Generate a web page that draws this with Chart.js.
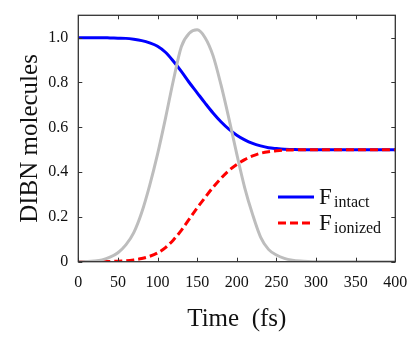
<!DOCTYPE html>
<html>
<head>
<meta charset="utf-8">
<script src="https://cdn.jsdelivr.net/npm/chart.js@4/dist/chart.umd.min.js"></script>
<style>
  html, body { margin: 0; padding: 0; background: #fff; }
  .chart-container { width: 416px; height: 338px; position: relative; }
</style>
</head>
<body>
<div class="chart-container"><canvas id="pulseChart"></canvas></div>
<script>
// time axis (fs), one sample every 10 fs
const times = [0,10,20,30,40,50,60,70,80,90,100,110,120,130,140,150,160,170,180,190,200,
  210,220,230,240,250,260,270,280,290,300,310,320,330,340,350,360,370,380,390,400];

const intact = [1.0,1.0,1.0,1.0,0.999,0.998,0.997,0.993,0.987,0.977,0.962,0.935,0.895,0.85,0.80,
  0.754,0.708,0.664,0.625,0.592,0.565,0.544,0.528,0.517,0.509,0.505,0.502,0.501,
  0.5,0.5,0.5,0.5,0.5,0.5,0.5,0.5,0.5,0.5,0.5,0.5,0.5];

const ionized = [0,0,0,0,0.001,0.002,0.004,0.008,0.014,0.024,0.039,0.063,0.097,0.14,0.19,
  0.24,0.287,0.332,0.372,0.407,0.434,0.456,0.472,0.484,0.491,0.495,0.498,0.499,
  0.5,0.5,0.5,0.5,0.5,0.5,0.5,0.5,0.5,0.5,0.5,0.5,0.5];

const pulse = [0,0.001,0.003,0.008,0.02,0.04,0.075,0.13,0.22,0.34,0.48,0.64,0.81,0.96,1.02,
  1.035,1.0,0.92,0.79,0.64,0.48,0.33,0.21,0.11,0.055,0.03,0.015,0.007,0.003,0.001,
  0,0,0,0,0,0,0,0,0,0,0];

const xTicks = [0,50,100,150,200,250,300,350,400];
const yTicks = [0,0.2,0.4,0.6,0.8,1.0];

const SERIF = "'Liberation Serif', 'Times New Roman', serif";

function toPoints(values){
  return times.map((t, i) => ({ x: t, y: values[i] }));
}

// frame with inward ticks on all four sides
const framePlugin = {
  id: 'frame',
  afterDatasetsDraw(chart){
    const c = chart.ctx;
    const a = chart.chartArea;
    const xs = chart.scales.x, ys = chart.scales.y;
    c.save();
    c.strokeStyle = '#333';
    c.lineWidth = 1.3;
    c.strokeRect(a.left, a.top, a.right - a.left, a.bottom - a.top);
    c.lineWidth = 1;
    for (let i = 0; i < xTicks.length; i++){
      const px = Math.round(xs.getPixelForValue(xTicks[i])) + 0.5;
      c.beginPath();
      c.moveTo(px, a.bottom); c.lineTo(px, a.bottom - 4);
      c.moveTo(px, a.top); c.lineTo(px, a.top + 4);
      c.stroke();
    }
    for (let i = 0; i < yTicks.length; i++){
      const py = Math.round(ys.getPixelForValue(yTicks[i])) + 0.5;
      c.beginPath();
      c.moveTo(a.left, py); c.lineTo(a.left + 4, py);
      c.moveTo(a.right, py); c.lineTo(a.right - 4, py);
      c.stroke();
    }
    c.restore();
  }
};

// legend with subscripts
const legendPlugin = {
  id: 'subLegend',
  afterDraw(chart){
    const c = chart.ctx;
    const items = [
      { ds: chart.data.datasets[1], sub: 'intact', y: 197 },
      { ds: chart.data.datasets[2], sub: 'ionized', y: 223 }
    ];
    c.save();
    items.forEach(it => {
      c.strokeStyle = it.ds.borderColor;
      c.lineWidth = 3;
      c.setLineDash(it.ds.borderDash || []);
      c.beginPath();
      c.moveTo(278, it.y); c.lineTo(314, it.y);
      c.stroke();
      c.setLineDash([]);
      c.fillStyle = '#111';
      c.textBaseline = 'alphabetic';
      c.font = '23px ' + SERIF;
      c.fillText('F', 319, it.y + 6.5);
      c.font = '16px ' + SERIF;
      c.fillText(it.sub, 334, it.y + 9.5);
    });
    c.restore();
  }
};

const config = {
  type: 'line',
  data: {
    datasets: [
      {
        label: 'pulse',
        data: toPoints(pulse),
        borderColor: '#bdbdbd',
        borderWidth: 3,
        order: 0
      },
      {
        label: 'F intact',
        data: toPoints(intact),
        borderColor: '#0000ff',
        borderWidth: 3,
        order: 2
      },
      {
        label: 'F ionized',
        data: toPoints(ionized),
        borderColor: '#ff0000',
        borderWidth: 3,
        borderDash: [8, 4],
        order: 1
      }
    ]
  },
  options: {
    responsive: true,
    maintainAspectRatio: false,
    animation: false,
    layout: { padding: { left: 0, right: 20.7, top: 15.3, bottom: 0 } },
    datasets: {
      line: {
        pointRadius: 0,
        cubicInterpolationMode: 'monotone',
        fill: false
      }
    },
    scales: {
      x: {
        type: 'linear',
        min: 0,
        max: 400,
        grid: { display: false, drawTicks: false },
        border: { display: false },
        afterBuildTicks: (scale) => { scale.ticks = xTicks.map(v => ({ value: v })); },
        afterFit: (scale) => {
          scale.height = 76.3;
          scale.paddingLeft = 0;
          scale.paddingRight = 0;
        },
        ticks: {
          color: '#111',
          padding: 11,
          maxRotation: 0,
          font: { family: SERIF, size: 16 }
        },
        title: {
          display: true,
          text: 'Time  (fs)',
          color: '#111',
          padding: { top: 0, bottom: 4 },
          font: { family: SERIF, size: 25 }
        }
      },
      y: {
        type: 'linear',
        min: 0,
        max: 1.1,
        grid: { display: false, drawTicks: false },
        border: { display: false },
        afterBuildTicks: (scale) => { scale.ticks = yTicks.map(v => ({ value: v })); },
        afterFit: (scale) => {
          scale.width = 78.3;
          scale.paddingTop = 0;
          scale.paddingBottom = 0;
        },
        ticks: {
          color: '#111',
          padding: 10,
          font: { family: SERIF, size: 16 },
          callback: (v) => v === 0 ? '0' : v.toFixed(1)
        },
        title: {
          display: true,
          text: 'DIBN molecules',
          color: '#111',
          padding: { top: 15, bottom: 0 },
          font: { family: SERIF, size: 25 }
        }
      }
    },
    plugins: {
      legend: { display: false },
      tooltip: { enabled: false }
    }
  },
  plugins: [framePlugin, legendPlugin]
};

const chart = new Chart(document.getElementById('pulseChart').getContext('2d'), config);
</script>
</body>
</html>
